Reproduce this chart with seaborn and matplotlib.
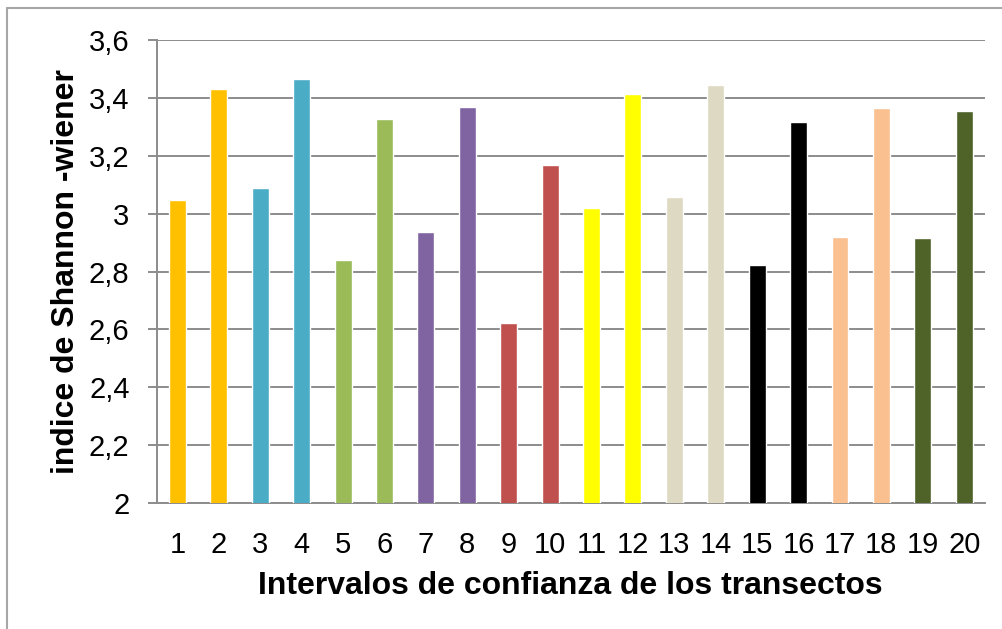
import matplotlib
matplotlib.use("Agg")
import matplotlib.pyplot as plt
from matplotlib.lines import Line2D
import seaborn as sns
import pandas as pd

# Shannon-Wiener index per transect interval
intervalos = [str(i) for i in range(1, 21)]
shannon = [3.048, 3.430, 3.087, 3.465, 2.841, 3.326, 2.938, 3.368, 2.623, 3.167,
           3.021, 3.413, 3.059, 3.444, 2.824, 3.316, 2.920, 3.364, 2.917, 3.354]
colores = ["#FFC000", "#FFC000", "#4BACC6", "#4BACC6", "#9BBB59", "#9BBB59",
           "#8064A2", "#8064A2", "#C0504D", "#C0504D", "#FFFF00", "#FFFF00",
           "#DDD9C3", "#DDD9C3", "#000000", "#000000", "#FAC090", "#FAC090",
           "#4F6228", "#4F6228"]
yticks = [2.0, 2.2, 2.4, 2.6, 2.8, 3.0, 3.2, 3.4, 3.6]
ytick_labels = ["2", "2,2", "2,4", "2,6", "2,8", "3", "3,2", "3,4", "3,6"]

sns.set_style("white")
plt.rcParams["font.family"] = ["Liberation Sans", "DejaVu Sans"]
plt.rcParams["text.color"] = "black"
plt.rcParams["axes.labelcolor"] = "black"
plt.rcParams["xtick.labelcolor"] = "black"
plt.rcParams["ytick.labelcolor"] = "black"

df = pd.DataFrame({"intervalo": intervalos, "H": shannon})

fig = plt.figure(figsize=(10.03, 6.29), dpi=100)
ax = fig.add_axes([0.1562, 0.2003, 0.8258, 0.7361])

sns.barplot(data=df, x="intervalo", y="H", hue="intervalo", palette=colores,
            width=0.41, legend=False, saturation=1, ax=ax, zorder=3)

ax.set_ylim(2, 3.6)
ax.set_xlim(-0.5, 19.5)
ax.set_yticks(yticks)
ax.set_yticklabels(ytick_labels)

grid_c = "#8C8C8C"
ax.yaxis.grid(True, color=grid_c, linewidth=1.4, zorder=0)
ax.set_axisbelow(True)
for s in ["top", "right"]:
    ax.spines[s].set_visible(False)
for s in ["left", "bottom"]:
    ax.spines[s].set_color(grid_c)
    ax.spines[s].set_linewidth(1.4)

ax.tick_params(axis="y", which="major", length=6.5, width=1.4, color=grid_c,
               direction="out", pad=13, labelsize=21, left=True)
ax.tick_params(axis="x", which="major", length=0, pad=20, labelsize=21)

ax.set_xlabel("Intervalos de confianza de los transectos", fontsize=23,
              fontweight="bold", labelpad=9)
ax.set_ylabel("indice de Shannon -wiener", fontsize=23, fontweight="bold",
              labelpad=6)

# chart-area frame (top and left edges)
fig.add_artist(Line2D([7 / 1003, 7 / 1003], [0, 1 - 8 / 629],
                      transform=fig.transFigure, color="#A6A6A6", linewidth=1.5))
fig.add_artist(Line2D([7 / 1003, 1], [1 - 8 / 629, 1 - 8 / 629],
                      transform=fig.transFigure, color="#A6A6A6", linewidth=1.5))

fig.savefig("out.png", dpi=100)
